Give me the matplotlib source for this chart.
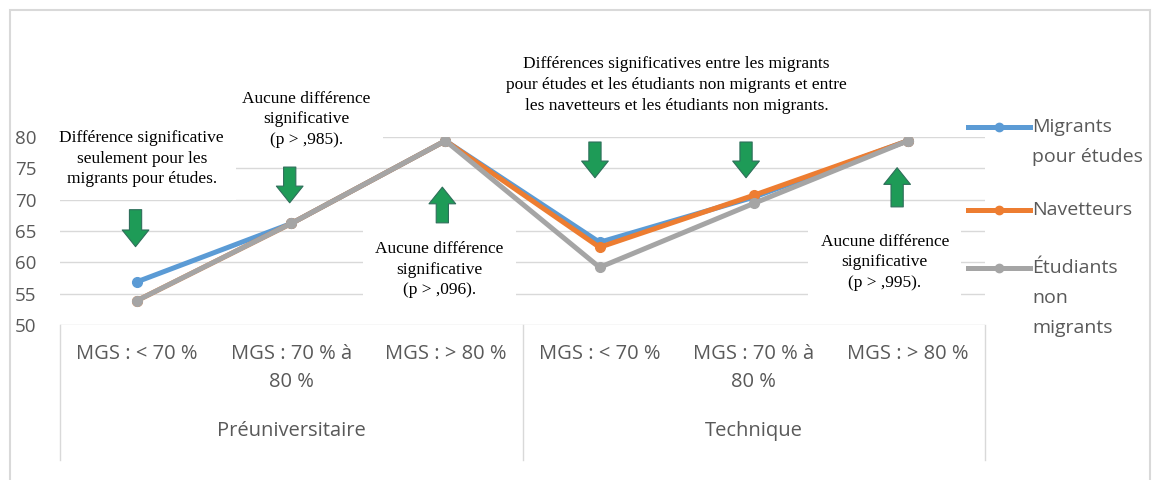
import numpy as np
import matplotlib.pyplot as plt
from matplotlib.lines import Line2D
from matplotlib.patches import Rectangle
from matplotlib.transforms import blended_transform_factory

# Données
categories = ["MGS : < 70 %", "MGS : 70 % à\n80 %", "MGS : > 80 %",
              "MGS : < 70 %", "MGS : 70 % à\n80 %", "MGS : > 80 %"]
groups = ["Préuniversitaire", "Technique"]
series_names = ["Migrants\npour études", "Navetteurs", "Étudiants\nnon\nmigrants"]
migrants = [56.9, 66.2, 79.4, 63.2, 70.4, 79.4]
navetteurs = [53.9, 66.2, 79.4, 62.4, 70.7, 79.4]
non_migrants = [53.9, 66.2, 79.4, 59.2, 69.4, 79.4]
colors = ["#5B9BD5", "#ED7D31", "#A5A5A5"]

W, H = 1156, 480
def px(x, y):
    return x / W, 1 - y / H

fig = plt.figure(figsize=(W / 100, H / 100), dpi=100)
ax = fig.add_axes([60 / W, 1 - 325 / H, (985 - 60) / W, (325 - 137) / H])

x = np.arange(len(categories))
for vals, c in zip([migrants, navetteurs, non_migrants], colors):
    ax.plot(x, vals, color=c, lw=3.6, marker="o", ms=7, zorder=3)

ax.set_xlim(-0.5, 5.5)
ax.set_ylim(50, 80)
ax.set_yticks(np.arange(50, 81, 5))
ax.tick_params(axis="y", length=0, pad=17, labelsize=13.5, labelcolor="#595959")
for lab in ax.get_yticklabels():
    lab.set_fontfamily("Open Sans")
ax.set_xticks([])
ax.grid(axis="y", color="#d9d9d9", lw=1, zorder=0)
for s in ax.spines.values():
    s.set_visible(False)

# Axe à deux niveaux
tr = blended_transform_factory(ax.transData, fig.transFigure)
for i, lab in enumerate(categories):
    ax.text(i, px(0, 344)[1], lab, transform=tr, ha="center", va="top",
            fontsize=14.5, color="#595959", family="Open Sans", linespacing=1.55,
            clip_on=False)
for i, g in enumerate(groups):
    ax.text(1 + 3 * i, px(0, 431)[1], g, transform=tr, ha="center", va="center",
            fontsize=14.5, color="#595959", family="Open Sans", clip_on=False)
for xs in [-0.5, 2.5, 5.5]:
    ax.plot([xs, xs], [px(0, 325)[1], px(0, 460)[1]], transform=tr,
            color="#d9d9d9", lw=1, clip_on=False)

# Annotations
notes = [
    (0.03, 76.5, "Différence significative\nseulement pour les\nmigrants pour études."),
    (1.1, 82.8, "Aucune différence\nsignificative\n(p > ,985)."),
    (1.96, 58.8, "Aucune différence\nsignificative\n(p > ,096)."),
    (3.5, 88.3, "Différences significatives entre les migrants\npour études et les étudiants non migrants et entre\nles navetteurs et les étudiants non migrants."),
    (4.85, 60.0, "Aucune différence\nsignificative\n(p > ,995)."),
]
for nx, ny, t in notes:
    ax.text(nx, ny, t, ha="center", va="center", fontsize=12.5, family="Liberation Serif",
            color="black", linespacing=1.38, zorder=4, clip_on=False,
            bbox=dict(boxstyle="square,pad=0.7", fc="white", ec="none"))

# Flèches vertes (pointe, queue)
arrows = [
    (-0.01, 62.5, 68.4), (0.99, 69.5, 75.2), (1.98, 72.0, 66.3),
    (2.97, 73.5, 79.2), (3.95, 73.5, 79.2), (4.93, 75.1, 68.85),
]
for ax_x, tip, tail in arrows:
    ax.annotate("", xy=(ax_x, tip), xytext=(ax_x, tail),
                arrowprops=dict(arrowstyle="simple,head_width=1.2,head_length=0.75,tail_width=0.55",
                                fc="#1E9B57", ec="#2E6E5A", lw=0.8, shrinkA=0, shrinkB=0,
                                mutation_scale=16),
                zorder=5, annotation_clip=False)

# Légende manuelle
leg_y = [127, 210, 268]
for name, c, ly in zip(series_names, colors, leg_y):
    fig.add_artist(Line2D([968 / W, 1030 / W], [px(0, ly)[1]] * 2, color=c, lw=3.6))
    fig.add_artist(Line2D([999 / W], [px(0, ly)[1]], color=c, marker="o", ms=6))
    for k, line in enumerate(name.split("\n")):
        fig.text(*px(1032, ly + 30 * k), line, ha="left", va="center", fontsize=14,
                 color="#595959", family="Open Sans")

# Cadre
fig.add_artist(Rectangle(px(10, 490), 1140 / W, 480 / H, transform=fig.transFigure,
                         fill=False, ec="#d9d9d9", lw=1.5))

plt.savefig("out.png", dpi=100)
